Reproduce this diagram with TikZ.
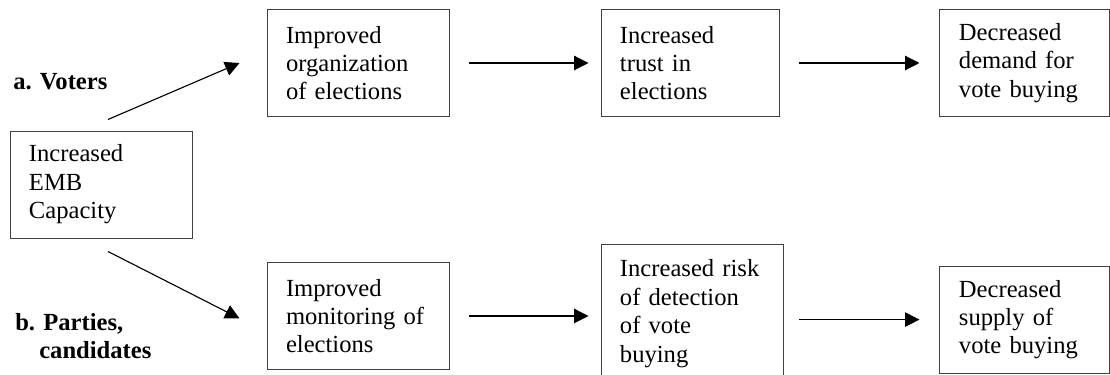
\documentclass[tikz,border=0pt]{standalone}
\usepackage{fontspec}
\setmainfont{Liberation Serif}
\usetikzlibrary{arrows.meta,positioning}
\begin{document}
\begin{tikzpicture}[
                font=\fontsize{17.5}{20.2}\selectfont,
                box/.style={draw=black!75, line width=0.7pt, align=left, inner xsep=0.475cm, minimum height=2.675cm},
                link/.style={line width=0.8pt, -{Triangle[length=0.36cm,width=0.36cm]}},
                group/.style={font=\fontsize{17.5}{20.2}\selectfont\bfseries, align=left, anchor=west, inner sep=0pt}
            ]
            \useasboundingbox (0,0) rectangle (27.75,9.35);
            \clip (0,0) rectangle (27.75,9.35);
            \node[box, text width=3.6cm] (capacity) at (2.525,4.7375) {Increased\\EMB\\Capacity};
            \node[box, text width=3.6cm] (organization) at (8.95,7.775) {Improved\\organization\\of elections};
            \node[box, text width=3.5cm, right=3.775cm of organization] (trust) {Increased\\trust in\\elections};
            \node[box, text width=3.3cm, right=4cm of trust] (demand) {Decreased\\demand for\\vote buying};
            \node[box, text width=3.6cm, below=3.625cm of organization] (monitoring) {Improved\\monitoring of\\elections};
            \node[box, text width=3.6cm, minimum height=3.45cm, right=3.775cm of monitoring, yshift=0.06cm] (risk) {Increased risk\\of detection\\of vote\\buying};
            \node[box, text width=3.3cm, right=3.9cm of risk, yshift=-0.15cm] (supply) {Decreased\\supply of\\vote buying};
            \node[group] (voters) at (0.325,7.3) {a. Voters};
            \node[group] (parties) at (0.375,0.95) {b. Parties,\\\hspace*{0.6cm}candidates};
            \draw[link] ([xshift=0.175cm,yshift=0.275cm]capacity.north) -- ([xshift=-0.675cm]organization.west);
            \draw[link] ([xshift=0.175cm,yshift=-0.325cm]capacity.south) -- ([xshift=-0.675cm,yshift=-0.06cm]monitoring.west);
            \draw[link, shorten <=0.475cm, shorten >=0.3cm] (organization) -- (trust);
            \draw[link, shorten <=0.5cm, shorten >=0.5cm] (trust) -- (demand);
            \draw[link, shorten <=0.475cm, shorten >=0.3cm] (monitoring.east) -- (monitoring.east -| risk.west);
            \draw[link, shorten <=0.4cm, shorten >=0.5cm] (risk.east |- supply.west) -- (supply.west);
        \end{tikzpicture}
\end{document}
